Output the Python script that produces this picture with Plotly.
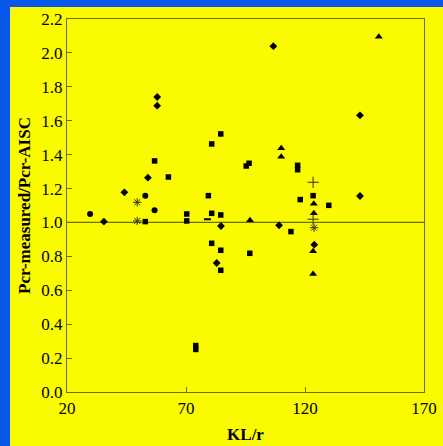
import plotly.graph_objects as go

# Series (KL/r, Pcr-measured/Pcr-AISC)
circle_x = [29.7, 52.9, 56.8]
circle_y = [1.05, 1.158, 1.072]

diamond_x = [35.5, 44.1, 54.0, 57.9, 57.9, 84.7, 82.9, 106.7, 109.1, 123.9, 143.1, 143.1]
diamond_y = [1.005, 1.178, 1.264, 1.740, 1.689, 0.979, 0.761, 2.04, 0.983, 0.869, 1.632, 1.156]

square_x = [52.9, 56.8, 62.6, 70.3, 70.3, 74.1, 74.1, 79.4, 80.8, 84.6, 80.8, 84.6,
            80.8, 84.6, 84.6, 95.3, 96.5, 96.8, 114.1, 116.9, 116.9, 118.0, 123.4, 130.0]
square_y = [1.005, 1.363, 1.268, 1.05, 1.009, 0.274, 0.251, 1.158, 1.463, 1.522, 1.054, 1.044,
            0.877, 0.836, 0.718, 1.333, 1.349, 0.818, 0.946, 1.337, 1.311, 1.135, 1.158, 1.101]

triangle_x = [96.9, 110.0, 110.0, 123.7, 123.7, 123.4, 123.4, 151.0]
triangle_y = [1.013, 1.438, 1.388, 1.111, 1.054, 0.830, 0.696, 2.096]

asterisk_x = [49.5, 49.5, 123.8]
asterisk_y = [1.119, 1.009, 0.969]

plus_x = [123.4, 123.4]
plus_y = [1.237, 1.019]

dash_x = [79.0]
dash_y = [1.019]

ref_x = [20, 170]
ref_y = [1.0, 1.0]

x_ticks = [20, 70, 120, 170]
y_ticks = [0.0, 0.2, 0.4, 0.6, 0.8, 1.0, 1.2, 1.4, 1.6, 1.8, 2.0, 2.2]

AX = "#6e6e00"
YEL = "#fafa00"
BLUE = "#0758e8"

fig = go.Figure()
fig.add_trace(go.Scatter(x=ref_x, y=ref_y, mode="lines",
                         line=dict(color=AX, width=1.2), hoverinfo="skip"))
fig.add_trace(go.Scatter(x=circle_x, y=circle_y, mode="markers",
                         marker=dict(symbol="circle", size=6, color="black")))
fig.add_trace(go.Scatter(x=diamond_x, y=diamond_y, mode="markers",
                         marker=dict(symbol="diamond", size=6, color="black")))
fig.add_trace(go.Scatter(x=square_x, y=square_y, mode="markers",
                         marker=dict(symbol="square", size=5.5, color="black")))
fig.add_trace(go.Scatter(x=triangle_x, y=triangle_y, mode="markers",
                         marker=dict(symbol="triangle-up", size=7, color="black")))
fig.add_trace(go.Scatter(x=asterisk_x, y=asterisk_y, mode="markers",
                         marker=dict(symbol="asterisk-open", size=7, color="#333333",
                                     line=dict(color="#333333", width=1))))
fig.add_trace(go.Scatter(x=plus_x, y=plus_y, mode="markers",
                         marker=dict(symbol="cross-thin-open", size=8, color="#333333",
                                     line=dict(color="#333333", width=1))))
fig.add_trace(go.Scatter(x=dash_x, y=dash_y, mode="markers",
                         marker=dict(symbol="line-ew-open", size=5, color="black",
                                     line=dict(color="black", width=2))))

font = dict(family="Liberation Serif, Times New Roman, serif", size=17, color="black")

fig.update_layout(
    width=443, height=446,
    margin=dict(l=67, r=19, t=19, b=54),
    paper_bgcolor=YEL, plot_bgcolor=YEL,
    showlegend=False,
    font=font,
    shapes=[
        dict(type="rect", xref="paper", yref="paper",
             x0=-67/357, x1=-57/357, y0=-54/373, y1=1 + 19/373,
             fillcolor=BLUE, line=dict(width=0), layer="below"),
        dict(type="rect", xref="paper", yref="paper",
             x0=-67/357, x1=1 + 19/357, y0=1 + 12/373, y1=1 + 19/373,
             fillcolor=BLUE, line=dict(width=0), layer="below"),
    ],
    xaxis=dict(range=[20, 170], tickvals=x_ticks, ticktext=[str(v) for v in x_ticks],
               ticks="inside", ticklen=5, tickcolor=AX, showgrid=False, zeroline=False,
               showline=True, linecolor=AX, linewidth=1.2, mirror=True, automargin=False,
               title=dict(text="<b>KL/r</b>", standoff=11, font=font)),
    yaxis=dict(range=[0, 2.2], tickvals=y_ticks, ticktext=[f"{v:.1f}" for v in y_ticks],
               ticks="inside", ticklen=5, tickcolor=AX, showgrid=False, zeroline=False,
               showline=True, linecolor=AX, linewidth=1.2, mirror=True, automargin=False,
               title=dict(text="<b>Pcr-measured/Pcr-AISC</b>", standoff=6, font=font)),
)

fig.write_html("out.html", config={"displayModeBar": False},
               post_script="document.body.style.margin='0';")
